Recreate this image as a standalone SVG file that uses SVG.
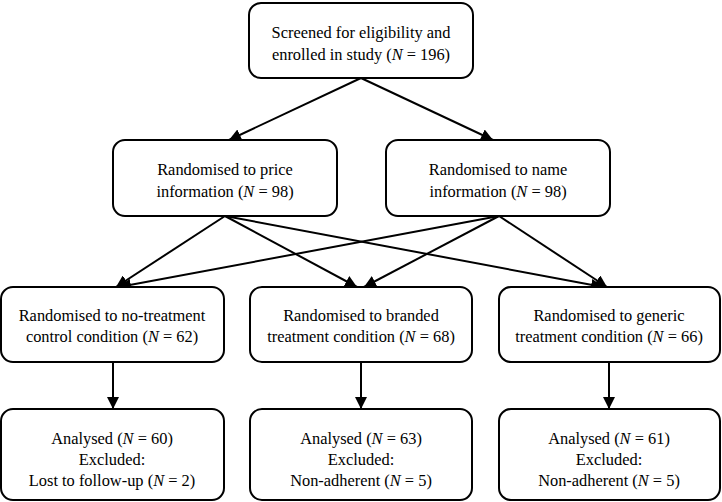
<svg xmlns="http://www.w3.org/2000/svg" width="722" height="502" viewBox="0 0 722 502" font-family="'Liberation Serif', 'Times New Roman', Times, 'DejaVu Serif', serif">
<style>
.box{fill:#fff;stroke:#000;stroke-width:2}
.t{font-size:16.4px;fill:#000;text-anchor:middle}
.c{stroke:#000;stroke-width:2;fill:none;marker-end:url(#ah)}
</style>
<defs>
<marker id="ah" viewBox="0 0 10 10" refX="10" refY="5" markerWidth="6" markerHeight="6" markerUnits="strokeWidth" orient="auto">
<path d="M0,0 L10,5 L0,10 z" fill="#000"/>
</marker>
</defs>
<g id="connectors">
<line class="c" x1="361" y1="78" x2="229" y2="140"/>
<line class="c" x1="361" y1="78" x2="493" y2="140"/>
<line class="c" x1="225" y1="216" x2="116" y2="287"/>
<line class="c" x1="225" y1="216" x2="357" y2="287"/>
<line class="c" x1="225" y1="216" x2="603" y2="287"/>
<line class="c" x1="499" y1="216" x2="119" y2="287"/>
<line class="c" x1="499" y1="216" x2="364" y2="287"/>
<line class="c" x1="499" y1="216" x2="607" y2="287"/>
<line class="c" x1="113" y1="362" x2="113" y2="409"/>
<line class="c" x1="361" y1="362" x2="361" y2="409"/>
<line class="c" x1="609" y1="362" x2="609" y2="409"/>
</g>
<g id="n_screened">
<rect class="box" x="249" y="3" width="224" height="75" rx="12"/>
<text class="t" x="361" y="38">Screened for eligibility and</text>
<text class="t" x="361" y="60">enrolled in study (<tspan font-style="italic">N</tspan> = 196)</text>
</g>
<g id="n_price">
<rect class="box" x="113" y="140" width="224" height="76" rx="12"/>
<text class="t" x="225" y="175">Randomised to price</text>
<text class="t" x="225" y="197">information (<tspan font-style="italic">N</tspan> = 98)</text>
</g>
<g id="n_name">
<rect class="box" x="386" y="140" width="224" height="76" rx="12"/>
<text class="t" x="498" y="175">Randomised to name</text>
<text class="t" x="498" y="197">information (<tspan font-style="italic">N</tspan> = 98)</text>
</g>
<g id="n_control">
<rect class="box" x="1" y="287" width="223" height="75" rx="12"/>
<text class="t" x="112" y="321">Randomised to no-treatment</text>
<text class="t" x="112" y="342">control condition (<tspan font-style="italic">N</tspan> = 62)</text>
</g>
<g id="n_branded">
<rect class="box" x="250" y="287" width="222" height="75" rx="12"/>
<text class="t" x="361" y="321">Randomised to branded</text>
<text class="t" x="361" y="342">treatment condition (<tspan font-style="italic">N</tspan> = 68)</text>
</g>
<g id="n_generic">
<rect class="box" x="499" y="287" width="221" height="75" rx="12"/>
<text class="t" x="609" y="321">Randomised to generic</text>
<text class="t" x="609" y="342">treatment condition (<tspan font-style="italic">N</tspan> = 66)</text>
</g>
<g id="n_an_control">
<rect class="box" x="1" y="409" width="223" height="91" rx="12"/>
<text class="t" x="112" y="444">Analysed (<tspan font-style="italic">N</tspan> = 60)</text>
<text class="t" x="112" y="465">Excluded:</text>
<text class="t" x="112" y="486">Lost to follow-up (<tspan font-style="italic">N</tspan> = 2)</text>
</g>
<g id="n_an_branded">
<rect class="box" x="250" y="409" width="222" height="91" rx="12"/>
<text class="t" x="361" y="444">Analysed (<tspan font-style="italic">N</tspan> = 63)</text>
<text class="t" x="361" y="465">Excluded:</text>
<text class="t" x="361" y="486">Non-adherent (<tspan font-style="italic">N</tspan> = 5)</text>
</g>
<g id="n_an_generic">
<rect class="box" x="499" y="409" width="221" height="91" rx="12"/>
<text class="t" x="609" y="444">Analysed (<tspan font-style="italic">N</tspan> = 61)</text>
<text class="t" x="609" y="465">Excluded:</text>
<text class="t" x="609" y="486">Non-adherent (<tspan font-style="italic">N</tspan> = 5)</text>
</g>
</svg>
